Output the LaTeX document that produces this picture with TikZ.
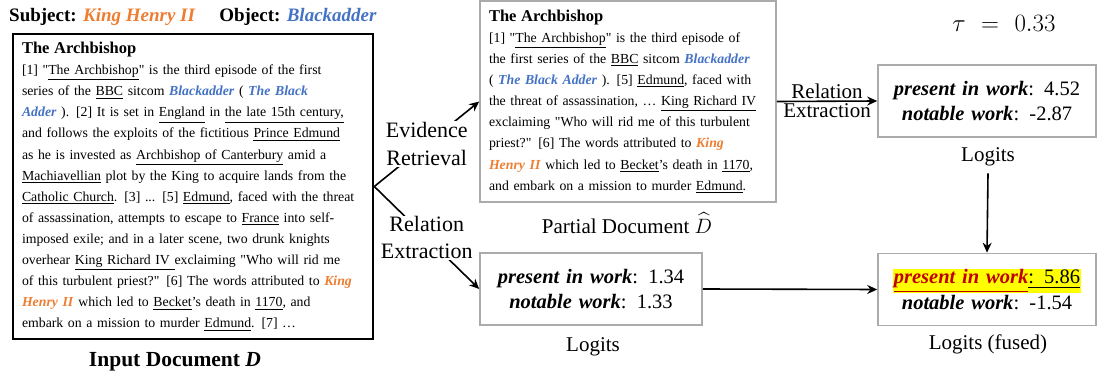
\documentclass[tikz,border=0pt]{standalone}
\usepackage{fontspec}
\setmainfont{Liberation Serif}
\usepackage{amsmath}
\usetikzlibrary{arrows.meta}
\definecolor{henry}{HTML}{ED7D31}
\definecolor{adder}{HTML}{4472C4}
\definecolor{boxgray}{HTML}{ABABAB}
\definecolor{hlred}{HTML}{C00000}
\definecolor{hlyellow}{HTML}{FFFF00}
\newcommand{\subjname}[1]{\textcolor{henry}{\textbf{\textit{#1}}}}
\newcommand{\objname}[1]{\textcolor{adder}{\textbf{\textit{#1}}}}
\newcommand{\rel}[1]{\textbf{\textit{#1}}}
\newcommand{\ulin}[1]{\underline{#1}}
\newcommand{\qt}{\textquotedbl}
\tikzset{
  docbx/.style={align=left,inner xsep=9pt,inner ysep=0pt,text width=#1,font=\fontsize{13.8}{21.1}\selectfont},
  logbx/.style={draw=boxgray,line width=1.6pt,align=center,minimum height=72pt,font=\fontsize{20.5}{25.5}\selectfont,text width=#1},
  lbl/.style={align=center,inner sep=1pt,font=\fontsize{21}{27}\selectfont},
  flow/.style={-{Stealth[length=10pt,width=9pt]},line width=1.6pt},
}

\begin{document}
\begin{tikzpicture}[x=1pt,y=-1pt]
\useasboundingbox (0,0) rectangle (1097,374);
\node[font=\fontsize{19}{22}\selectfont\bfseries,anchor=west,inner sep=0pt] (pair) at (9,17)
  {Subject: \subjname{King Henry II}\quad\ Object: \objname{Blackadder}};
\node[docbx=342pt,draw,line width=2.6pt,minimum height=305pt] (input) at (193,186.5)
  {{\fontsize{16.5}{18}\selectfont\bfseries The Archbishop}\\
  {[1]} \qt\ulin{The Archbishop}\qt{} is the third episode of the first\\
  series of the \ulin{BBC} sitcom \objname{Blackadder} ( \objname{The Black}\\
  \objname{Adder} ). [2] It is set in \ulin{England} in \ulin{the late 15th century,}\\
  and follows the exploits of the fictitious \ulin{Prince Edmund}\\
  as he is invested as \ulin{Archbishop of Canterbury} amid a\\
  \ulin{Machiavellian} plot by the King to acquire lands from the\\
  \ulin{Catholic Church}. [3] ... [5] \ulin{Edmund}, faced with the threat\\
  of assassination, attempts to escape to \ulin{France} into self-\\
  imposed exile; and in a later scene, two drunk knights\\
  overhear \ulin{King Richard IV }exclaiming \qt{}Who will rid me\\
  of this turbulent priest?\qt{} [6] The words attributed to \subjname{King}\\
  \subjname{Henry II} which led to \ulin{Becket}'s death in \ulin{1170}, and\\
  embark on a mission to murder \ulin{Edmund}. [7] …};
\node[lbl,font=\fontsize{21.5}{24}\selectfont\bfseries] (inputlbl) at (175,362) {Input Document \textit{D}};
\node[docbx=278pt,draw=boxgray,line width=1.6pt,minimum height=201pt] (partial) at (628,101.5)
  {{\fontsize{16.5}{17}\selectfont\bfseries The Archbishop}\\
  {[1]} \qt\ulin{The Archbishop}\qt{} is the third episode of\\
  the first series of the \ulin{BBC} sitcom \objname{Blackadder}\\
  ( \objname{The Black Adder} ). [5] \ulin{Edmund}, faced with\\
  the threat of assassination, … \ulin{King Richard IV}\\
  exclaiming \qt{}Who will rid me of this turbulent\\
  priest?\qt{} [6] The words attributed to \subjname{King}\\
  \subjname{Henry II} which led to \ulin{Becket}'s death in \ulin{1170},\\
  and embark on a mission to murder \ulin{Edmund}.};
\node[lbl] (partiallbl) at (627,223) {Partial Document $\widehat{D}$};
\node[logbx=215pt,minimum width=222pt] (loglow) at (591,289)
  {\rel{present in work}: 1.34\\\rel{notable work}: 1.33};
\node[lbl] (loglowlbl) at (593,347) {Logits};
\node[logbx=210pt,minimum width=218pt] (logtop) at (987,101)
  {\rel{present in work}: 4.52\\\rel{notable work}: -2.87};
\node[lbl] (logtoplbl) at (988,157) {Logits};
\node[logbx=210pt,minimum width=218pt] (fused) at (987,289.5)
  {{\setlength{\fboxsep}{0.5pt}\colorbox{hlyellow}{\textcolor{hlred}{\ulin{\rel{present in work}}}\ulin{: 5.86}}}\\\rel{notable work}: -1.54};
\node[lbl] (fusedlbl) at (988,344) {Logits (fused)};
\node[font=\fontsize{34}{38}\selectfont] (tau) at (1004,23) {$\tau\ =\ 0.33$};
\draw[flow] (input.east) -- node[lbl,fill=white,font=\fontsize{22}{28}\selectfont] {Evidence\\Retrieval} (partial.west);
\draw[flow] (input.east) -- node[lbl,fill=white,font=\fontsize{22}{27}\selectfont] {Relation\\Extraction} (loglow.west);
\draw[flow] (partial.east) -- node[lbl,above,inner sep=2pt] {Relation} node[lbl,below,inner sep=2pt] {Extraction} (logtop.west);
\draw[flow] (logtoplbl.south) ++(0,6) -- (fused.north);
\draw[flow] (loglow.east) -- (fused.west);
\end{tikzpicture}
\end{document}
